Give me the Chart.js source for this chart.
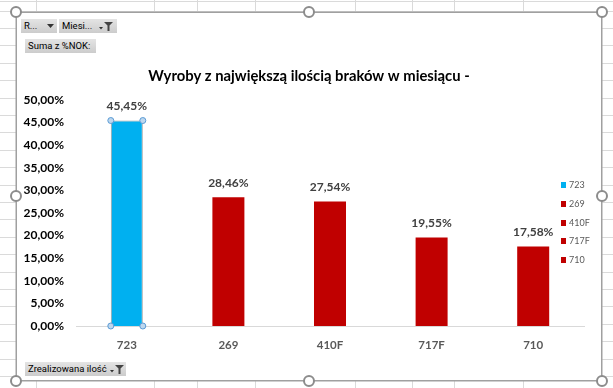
<!DOCTYPE html>
<html>
<head>
<meta charset="utf-8">
<script src="https://cdn.jsdelivr.net/npm/chart.js@4.4.1/dist/chart.umd.min.js"></script>
<style>
  html, body { margin:0; padding:0; background:#fff; width:613px; height:388px; overflow:hidden; }
  .hl { position:absolute; height:1px; background:#DADADA; }
  .vl { position:absolute; width:1px; background:#DADADA; }
  #frame { position:absolute; left:16px; top:12px; width:584px; height:367px; border:1px solid #A0A0A0; background:#fff; }
  #frame2 { position:absolute; left:15px; top:11px; width:588px; height:371px; border:1px solid rgba(160,160,160,0.5); box-sizing:border-box; }
  canvas { position:absolute; left:17px; top:13px; }
  .handle { position:absolute; width:8px; height:8px; border:2px solid #8C8C8C; border-radius:50%; background:#fff; }
  .pbtn { position:absolute; height:14px; background:linear-gradient(#E4E4E4,#CCCCCC); font-family:Roboto, "Noto Sans", sans-serif; font-size:9.5px; line-height:14px; color:#000; white-space:nowrap; box-sizing:border-box; padding-left:3px; }
  .pbtn svg { position:absolute; top:3px; }
  #legend { position:absolute; left:561px; top:180px; font-family:Lato, sans-serif; font-size:9px; color:#595959; }
  .li { position:absolute; left:0; height:10px; line-height:10px; white-space:nowrap; }
  .li span.sw { position:absolute; left:0; top:2px; width:5px; height:6px; }
  .li span.tx { position:absolute; left:8px; top:0; }
</style>
</head>
<body>
<div id="bg"></div>
<div id="frame2"></div>
<div id="frame"></div>
<canvas id="c" width="584" height="367"></canvas>
<div id="legend"></div>
<div id="buttons"></div>
<div id="handles"></div>
<script>
// ---- data ----
const categories = ['723', '269', '410F', '717F', '710'];
const nokPercent = [45.45, 28.46, 27.54, 19.55, 17.58];
const barColors = ['#00B0F0', '#C00000', '#C00000', '#C00000', '#C00000'];
const yTickLabels = ['0,00%', '5,00%', '10,00%', '15,00%', '20,00%', '25,00%', '30,00%', '35,00%', '40,00%', '45,00%', '50,00%'];
const titleText = 'Wyroby z największą ilością braków w miesiącu -';
const pivotFields = ['R...', 'Miesi...', 'Suma z %NOK:', 'Zrealizowana ilość'];

// ---- excel sheet background ----
const bg = document.getElementById('bg');
const colX = [36, 154, 197, 255, 355, 412, 454, 523];
colX.forEach(x => {
  const d = document.createElement('div'); d.className = 'vl';
  d.style.left = x + 'px'; d.style.top = '0px'; d.style.height = '388px'; bg.appendChild(d);
});
for (let k = 0; k <= 21; k++) {
  const y = Math.round(376 - 17.4 * k);
  const d = document.createElement('div'); d.className = 'hl';
  d.style.left = '0px'; d.style.top = y + 'px'; d.style.width = '613px'; bg.appendChild(d);
}
{ const d = document.createElement('div'); d.className = 'hl'; d.style.left='0px'; d.style.top='1px'; d.style.width='613px'; bg.appendChild(d); }

// ---- frame handles ----
const hs = document.getElementById('handles');
[[16,12],[309,12],[602,12],[16,196],[602,196],[16,381],[309,381],[602,381]].forEach(p => {
  const d = document.createElement('div'); d.className = 'handle';
  d.style.left = (p[0] - 6) + 'px'; d.style.top = (p[1] - 6) + 'px'; hs.appendChild(d);
});

// ---- pivot buttons ----
const arrowSvg = '<svg width="7" height="8" viewBox="0 0 7 8"><polygon points="0,2 7,2 3.5,6" fill="#333"/></svg>';
const funnelSvg = '<svg width="14" height="9" viewBox="0 0 14 9"><polygon points="0,5 4,5 2,7.5" fill="#333"/><polygon points="5,0 14,0 10.5,3.5 10.5,9 8.5,9 8.5,3.5" fill="#444"/></svg>';
const btns = document.getElementById('buttons');
function addBtn(text, left, top, width, icon, iconLeft) {
  const d = document.createElement('div'); d.className = 'pbtn';
  d.style.left = left + 'px'; d.style.top = top + 'px'; d.style.width = width + 'px';
  d.innerHTML = '<span>' + text + '</span>' + (icon ? icon.replace('<svg', '<svg style="left:' + iconLeft + 'px"') : '');
  btns.appendChild(d);
}
addBtn(pivotFields[0], 21, 19, 36, arrowSvg, 26);
addBtn(pivotFields[1], 59, 19, 58, funnelSvg, 40);
addBtn(pivotFields[2], 25, 39, 71, null, 0);
addBtn(pivotFields[3], 25, 362, 101, funnelSvg, 85);

// ---- legend ----
const lg = document.getElementById('legend');
categories.forEach((c, i) => {
  const d = document.createElement('div'); d.className = 'li';
  d.style.top = (i * 18.8) + 'px';
  d.innerHTML = '<span class="sw" style="background:' + barColors[i] + '"></span><span class="tx">' + c + '</span>';
  lg.appendChild(d);
});

// ---- chart ----
const fmt = v => v.toFixed(2).replace('.', ',') + '%';
const dataLabels = {
  id: 'dataLabels',
  afterDatasetsDraw(chart) {
    const ctx = chart.ctx;
    const meta = chart.getDatasetMeta(0);
    ctx.save();
    ctx.font = 'bold 12px Lato';
    ctx.fillStyle = '#404040';
    ctx.textAlign = 'center';
    ctx.textBaseline = 'middle';
    meta.data.forEach((bar, i) => ctx.fillText(fmt(nokPercent[i]), bar.x, bar.y - 14));
    // selection handles on first bar
    const b = meta.data[0];
    const l = b.x - b.width / 2, r = b.x + b.width / 2;
    [[l, b.y], [r, b.y], [l, b.base], [r, b.base]].forEach(p => {
      ctx.beginPath(); ctx.arc(p[0], p[1], 3, 0, Math.PI * 2);
      ctx.fillStyle = '#BDD7EE'; ctx.fill();
      ctx.lineWidth = 1; ctx.strokeStyle = '#5B9BD5'; ctx.stroke();
    });
    ctx.restore();
  }
};

new Chart(document.getElementById('c'), {
  type: 'bar',
  data: {
    labels: categories,
    datasets: [{
      data: nokPercent,
      backgroundColor: barColors,
      borderColor: ['#A0A0A0', 'rgba(0,0,0,0)', 'rgba(0,0,0,0)', 'rgba(0,0,0,0)', 'rgba(0,0,0,0)'],
      borderWidth: [1, 0, 0, 0, 0],
      barPercentage: 1,
      categoryPercentage: 0.315
    }]
  },
  options: {
    responsive: false,
    animation: false,
    devicePixelRatio: 1,
    layout: { padding: { left: 0, right: 0, top: 0, bottom: 0 } },
    plugins: {
      legend: { display: false },
      tooltip: { enabled: false },
      title: {
        display: true, text: titleText, color: '#000',
        font: { family: 'Lato', size: 14.8, weight: 'bold', lineHeight: 1.2 },
        padding: { top: 54, bottom: 15.2 }
      }
    },
    scales: {
      x: {
        offset: true,
        grid: { display: false, drawTicks: false },
        border: { display: true, color: '#D9D9D9', width: 1 },
        ticks: { color: '#595959', font: { family: 'Lato', size: 11.5, weight: 'bold' }, padding: 12, maxRotation: 0 },
        afterFit(s) { s.height = 54; }
      },
      y: {
        min: 0, max: 50,
        grid: { display: false, drawTicks: false },
        border: { display: false },
        ticks: { stepSize: 5, color: '#000', font: { family: 'Lato', size: 12, weight: 'bold' }, padding: 12,
          callback: (v, i) => yTickLabels[i] },
        afterFit(s) { s.width = 59; }
      },
      yRight: {
        position: 'right', min: 0, max: 50,
        grid: { display: false, drawTicks: false },
        border: { display: false },
        ticks: { display: false },
        afterFit(s) { s.width = 17; }
      }
    }
  },
  plugins: [dataLabels]
});
</script>
</body>
</html>
